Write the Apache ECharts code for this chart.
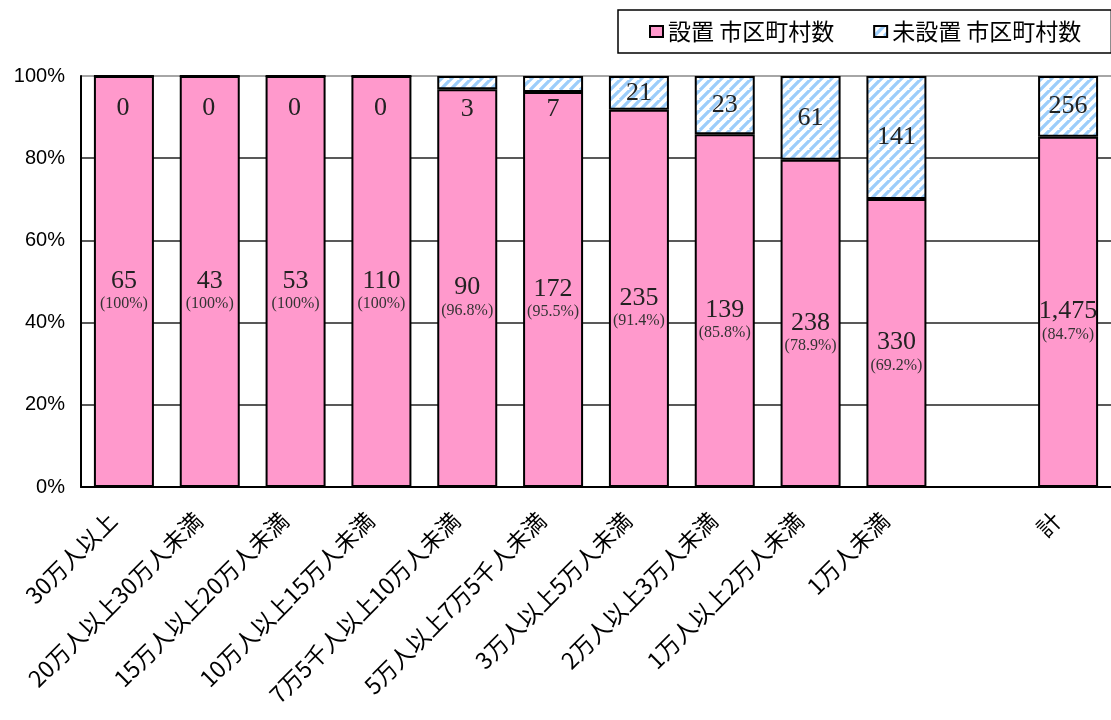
<!DOCTYPE html>
<html>
<head>
<meta charset="utf-8">
<script src="https://cdn.jsdelivr.net/npm/echarts@6/dist/echarts.min.js"></script>
<style>
  html, body { margin: 0; padding: 0; background: #fff; }
  #chart { width: 1111px; height: 720px; }
</style>
</head>
<body>
<div id="chart"></div>
<script>
// 人口規模別の設置状況
const categories = ['30万人以上', '20万人以上30万人未満', '15万人以上20万人未満', '10万人以上15万人未満',
  '7万5千人以上10万人未満', '5万人以上7万5千人未満', '3万人以上5万人未満', '2万人以上3万人未満',
  '1万人以上2万人未満', '1万人未満', '', '計']
const setCounts = [65, 43, 53, 110, 90, 172, 235, 139, 238, 330, null, 1475] // 設置
const unsetCounts = [0, 0, 0, 0, 3, 7, 21, 23, 61, 141, null, 256] // 未設置
const pctLabels = ['100%', '100%', '100%', '100%', '96.8%', '95.5%', '91.4%', '85.8%', '78.9%', '69.2%', '', '84.7%']
const yTicks = [0, 20, 40, 60, 80, 100]

// 斜線パターン
function hatch() {
  const c = document.createElement('canvas')
  c.width = 10
  c.height = 10
  const ctx = c.getContext('2d')
  ctx.fillStyle = '#fff'
  ctx.fillRect(0, 0, 10, 10)
  ctx.strokeStyle = '#9ccdfa'
  ctx.lineWidth = 3.3
  ctx.beginPath()
  for (let k = -10; k <= 20; k += 10) {
    ctx.moveTo(k - 10, 10)
    ctx.lineTo(k + 10, -10)
  }
  ctx.stroke()
  return c
}

const share = (i, v) => {
  if (setCounts[i] == null) return null
  return v / (setCounts[i] + unsetCounts[i]) * 100
}
const fmt = v => v.toLocaleString('en-US')

const setData = setCounts.map((v, i) => share(i, v))
const unsetData = unsetCounts.map((v, i) => {
  const s = share(i, v)
  if (s == null) return null
  if (s < 6) return { value: s, label: { position: [30, 33] } }
  return s
})

const chart = echarts.init(document.getElementById('chart'))
const option = {
  animation: false,
  legend: {
    left: 618,
    top: 10,
    width: 560,
    padding: [10, 30, 10, 31],
    borderColor: '#000',
    borderWidth: 1.5,
    itemGap: 39,
    itemWidth: 13,
    itemHeight: 11,
    icon: 'rect',
    textStyle: { fontFamily: 'Noto Sans CJK JP', fontSize: 23, color: '#000' },
    data: ['設置 市区町村数', '未設置 市区町村数']
  },
  grid: { left: 81, right: 0, top: 76, bottom: 233 },
  xAxis: {
    type: 'category',
    data: categories,
    axisLine: { lineStyle: { color: '#000', width: 2 } },
    axisTick: { inside: true, length: 5, lineStyle: { color: '#000', width: 1.5 } },
    axisLabel: {
      interval: 0, rotate: 45, margin: 18,
      padding: [0, 16, 0, 0],
      fontFamily: 'Noto Sans CJK JP', fontSize: 23, color: '#000'
    }
  },
  yAxis: {
    type: 'value',
    min: yTicks[0],
    max: yTicks[yTicks.length - 1],
    interval: 20,
    axisLine: { show: true, lineStyle: { color: '#000', width: 2 } },
    axisTick: { show: false },
    axisLabel: {
      formatter: '{value}%', margin: 16,
      fontFamily: 'Liberation Sans', fontSize: 20, color: '#000'
    },
    splitLine: { lineStyle: { color: ['#000', '#222', '#222', '#222', '#222', '#888'], width: 1.5 } }
  },
  series: [{
    name: '設置 市区町村数',
    type: 'bar',
    stack: 'total',
    barWidth: 60,
    itemStyle: { color: '#ff99cc', borderColor: '#000', borderWidth: 2 },
    label: {
      show: true,
      position: 'inside',
      offset: [0, 9],
      color: '#222',
      fontFamily: 'Liberation Serif',
      formatter: p => '{a|' + fmt(setCounts[p.dataIndex]) + '}\n{b|(' + pctLabels[p.dataIndex] + ')}',
      rich: {
        a: { fontFamily: 'Liberation Serif', fontSize: 26, lineHeight: 27, color: '#222' },
        b: { fontFamily: 'Liberation Serif', fontSize: 16, lineHeight: 19, color: '#333' }
      }
    },
    data: setData
  }, {
    name: '未設置 市区町村数',
    type: 'bar',
    stack: 'total',
    barWidth: 60,
    itemStyle: { color: { image: hatch(), repeat: 'repeat' }, borderColor: '#000', borderWidth: 2 },
    label: {
      show: true,
      position: 'inside',
      align: 'center',
      verticalAlign: 'middle',
      color: '#222',
      fontFamily: 'Liberation Serif',
      fontSize: 26,
      formatter: p => fmt(unsetCounts[p.dataIndex])
    },
    data: unsetData
  }]
}
chart.setOption(option)
</script>
</body>
</html>
